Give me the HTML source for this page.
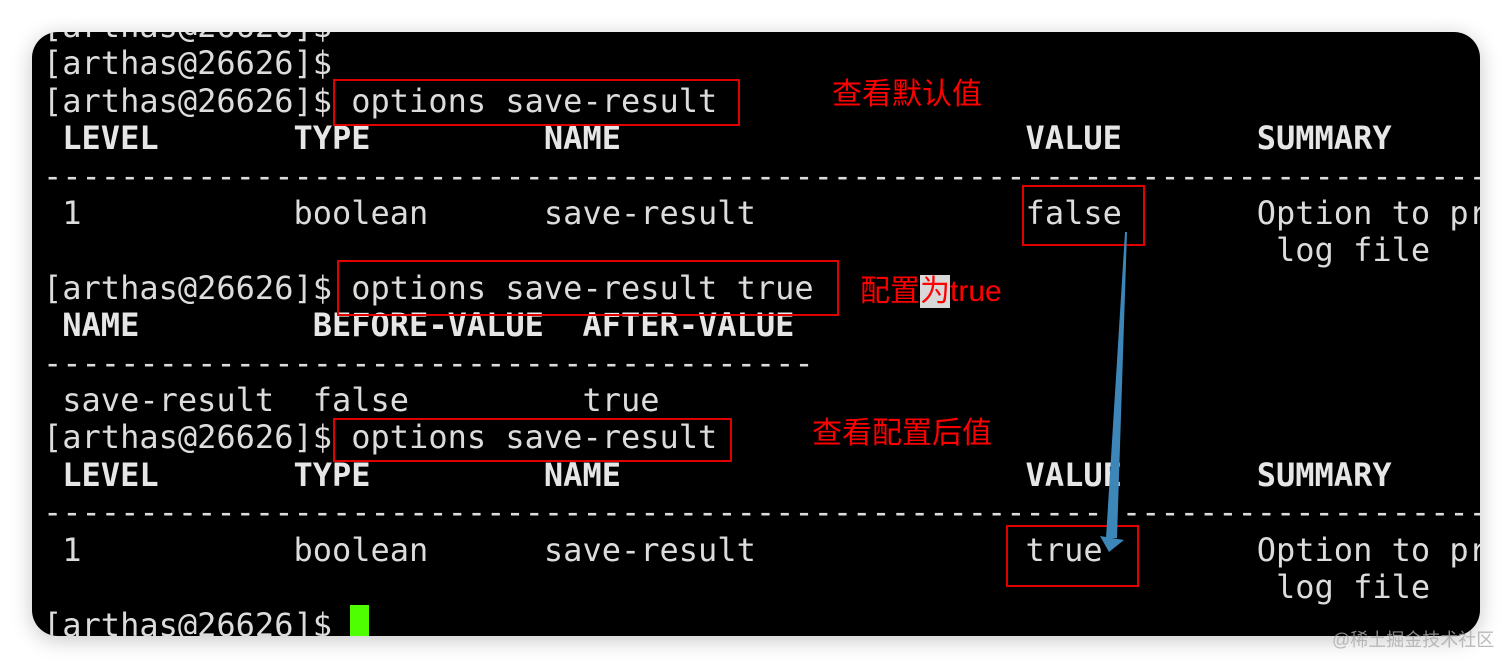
<!DOCTYPE html>
<html><head><meta charset="utf-8"><style>
html,body{margin:0;padding:0;background:#fff;width:1512px;height:669px;overflow:hidden}
#term{position:absolute;left:32px;top:32px;width:1448px;height:604px;background:#000;border-radius:26px;overflow:hidden;box-shadow:0 4px 22px rgba(0,0,0,0.22)}
pre{position:absolute;left:11px;top:-24px;margin:0;font-family:"DejaVu Sans Mono","Liberation Mono",monospace;font-size:32px;line-height:37.4px;color:#dcdcdc;white-space:pre}
b{font-weight:bold;color:#e6e6e6}
.box{position:absolute;border:2px solid #e00000;box-sizing:border-box}
.ann{position:absolute;color:#f00;font-family:"Liberation Sans","Noto Sans CJK SC",sans-serif;font-size:30px;line-height:34px;white-space:nowrap}
.hl{background:#d8d8d8}
</style></head><body>
<div id="term">
<pre>[arthas@26626]$
[arthas@26626]$
[arthas@26626]$ options save-result
<b> LEVEL       TYPE         NAME                     VALUE       SUMMARY</b>
-------------------------------------------------------------------------------
 1           boolean      save-result              false       Option to print command's result to
                                                                log file
[arthas@26626]$ options save-result true
<b> NAME         BEFORE-VALUE  AFTER-VALUE</b>
----------------------------------------
 save-result  false         true
[arthas@26626]$ options save-result
<b> LEVEL       TYPE         NAME                     VALUE       SUMMARY</b>
-------------------------------------------------------------------------------
 1           boolean      save-result              true        Option to print command's result to
                                                                log file
[arthas@26626]$ </pre>
<div style="position:absolute;left:318px;top:573px;width:19px;height:31px;background:#4dff00"></div>
</div>
<div class="box" style="left:333px;top:79px;width:407px;height:47px"></div>
<div class="box" style="left:1022px;top:185px;width:123px;height:61px"></div>
<div class="box" style="left:337px;top:260px;width:502px;height:56px"></div>
<div class="box" style="left:333px;top:418px;width:399px;height:44px"></div>
<div class="box" style="left:1006px;top:525px;width:133px;height:62px"></div>
<div class="ann" style="left:832px;top:78px">查看默认值</div>
<div class="ann" style="left:860px;top:275px">配置<span class="hl">为</span>true</div>
<div class="ann" style="left:812px;top:417px">查看配置后值</div>
<svg style="position:absolute;left:0;top:0" width="1512" height="669">
<polygon points="1125,232 1127,232 1117,538 1106,538" fill="#3d86b8"/>
<polygon points="1100,536 1124,540 1109,552" fill="#3d86b8"/>
</svg>
<div style="position:absolute;left:1332px;top:626px;font-family:'Liberation Sans','Noto Sans CJK SC',sans-serif;font-size:18px;color:#aaa;opacity:.8">@稀土掘金技术社区</div>
</body></html>
